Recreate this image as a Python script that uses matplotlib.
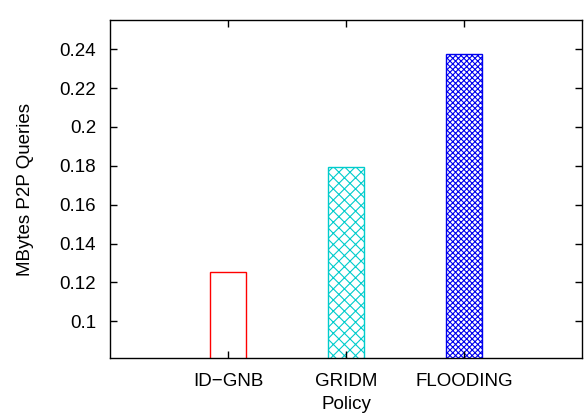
import matplotlib
matplotlib.use('Agg')
import matplotlib.pyplot as plt

# Data
policies = ['ID\u2212GNB', 'GRIDM', 'FLOODING']
mbytes = [0.1253, 0.1795, 0.2375]
colors = ['#ff0000', '#00cccc', '#0000ee']
hatches = ['', 'xxx', 'xxxxxx']
y_ticks = [0.1, 0.12, 0.14, 0.16, 0.18, 0.2, 0.22, 0.24]

plt.rcParams['font.family'] = ['Liberation Sans', 'DejaVu Sans']
plt.rcParams['hatch.linewidth'] = 0.8

fig = plt.figure(figsize=(5.85, 4.17), dpi=100)
ax = fig.add_axes([0.188, 0.141, 0.807, 0.811])

positions = [1, 2, 3]
for pos, val, col, hat in zip(positions, mbytes, colors, hatches):
    ax.bar(pos, val, width=0.3, bottom=0, facecolor='white',
           edgecolor=col, hatch=hat, linewidth=1.0)

ax.set_xlim(0, 4)
ax.set_ylim(0.081, 0.255)
ax.set_xticks(positions)
ax.set_xticklabels(policies)
ax.set_yticks(y_ticks)
ax.set_yticklabels(['0.1', '0.12', '0.14', '0.16', '0.18', '0.2', '0.22', '0.24'])
ax.tick_params(direction='in', top=True, right=True, labelsize=13.5,
               length=5, width=1)
ax.tick_params(axis='y', pad=10)
ax.tick_params(axis='x', pad=11)
for sp in ax.spines.values():
    sp.set_linewidth(1.0)

ax.set_xlabel('Policy', fontsize=13.5, labelpad=4)
ax.set_ylabel('MBytes P2P Queries', fontsize=13.5, labelpad=18)

fig.savefig('out.png', dpi=100)
